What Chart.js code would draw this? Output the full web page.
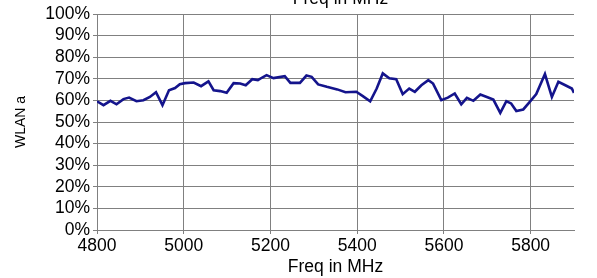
<!DOCTYPE html>
<html>
<head>
<meta charset="utf-8">
<script src="https://cdn.jsdelivr.net/npm/chart.js@4/dist/chart.umd.min.js"></script>
<style>
  html, body { margin: 0; padding: 0; background: #fff; }
  #wrap { width: 597px; height: 278px; }
</style>
</head>
<body>
<div id="wrap"><canvas id="wlanChart"></canvas></div>
<script>
// frequency points (MHz) and WLAN a level (%)
const freqs = [4800, 4815, 4831, 4845, 4861, 4874, 4891, 4907, 4922, 4936, 4951, 4966, 4980, 4991,
  5003, 5023, 5040, 5057, 5069, 5084, 5099, 5115, 5130, 5143, 5158, 5171, 5181, 5191, 5207, 5233,
  5246, 5268, 5283, 5295, 5310, 5330, 5354, 5373, 5398, 5413, 5430, 5445, 5459, 5474, 5490, 5505,
  5520, 5533, 5548, 5564, 5575, 5594, 5609, 5625, 5640, 5653, 5668, 5684, 5699, 5714, 5730, 5744,
  5755, 5767, 5783, 5798, 5813, 5833, 5849, 5864, 5880, 5895, 5900];
const wlanA = [59.6, 57.8, 59.8, 58.2, 60.6, 61.3, 59.6, 60.1, 61.6, 63.8, 57.8, 64.7, 65.7, 67.5,
  68, 68.3, 66.6, 68.8, 64.7, 64.3, 63.5, 68, 67.8, 67, 69.8, 69.4, 70.6, 71.7, 70.3, 71.2,
  68.1, 68.1, 71.5, 70.9, 67.4, 66.3, 65.1, 63.8, 64, 62, 59.6, 65.5, 72.5, 70.2, 69.8, 62.9,
  65.5, 64, 67, 69.4, 67.8, 60.1, 61.3, 63.2, 58.2, 61.2, 59.8, 62.7, 61.6, 60.4, 54.2, 59.6,
  58.6, 55.1, 55.8, 59.3, 62.9, 72.2, 61.6, 68.6, 67, 65.5, 63.5];
const xTicks = [4800, 5000, 5200, 5400, 5600, 5800];
const axisTitle = 'Freq in MHz';
const seriesLabel = 'WLAN a';

const family = '"Liberation Sans", Arial, sans-serif';
const font = { family: family, size: 17.5, lineHeight: 1 };
const gridColor = '#808080';

// title sitting above the plot, mostly clipped by the top edge
const topTitle = {
  id: 'topTitle',
  afterDraw(chart) {
    const { ctx, chartArea } = chart;
    ctx.save();
    ctx.font = '17.5px ' + family;
    ctx.fillStyle = '#000';
    ctx.textAlign = 'center';
    ctx.textBaseline = 'alphabetic';
    ctx.fillText(axisTitle, (chartArea.left + chartArea.right) / 2 + 5, 4);
    ctx.restore();
  }
};

new Chart(document.getElementById('wlanChart'), {
  type: 'scatter',
  data: {
    datasets: [{
      label: seriesLabel,
      data: freqs.map((f, i) => ({ x: f, y: wlanA[i] })),
      showLine: true,
      borderColor: '#14148c',
      borderWidth: 2.6,
      pointRadius: 0,
      tension: 0
    }]
  },
  options: {
    responsive: true,
    maintainAspectRatio: false,
    animation: false,
    layout: { padding: { top: 14, right: 23, left: 0, bottom: 0 } },
    plugins: { legend: { display: false }, tooltip: { enabled: false } },
    scales: {
      x: {
        type: 'linear',
        min: 4800,
        max: 5900,
        afterBuildTicks: axis => { axis.ticks = xTicks.map(v => ({ value: v })); },
        afterFit: axis => { axis.height = 48; },
        ticks: { color: '#000', font: font, maxRotation: 0, padding: 3, autoSkip: false, callback: v => String(v) },
        grid: { color: gridColor, lineWidth: 1, tickLength: 4, drawTicks: true },
        border: { color: gridColor },
        title: { display: true, text: axisTitle, color: '#000', font: { family: family, size: 17.5 }, padding: { top: 0, bottom: 0 } }
      },
      y: {
        min: 0,
        max: 100,
        afterFit: axis => { axis.width = 97; },
        ticks: { stepSize: 10, color: '#000', font: font, padding: 3, autoSkip: false, callback: v => v + '%' },
        grid: { color: gridColor, lineWidth: 1, tickLength: 4 },
        border: { color: gridColor },
        title: { display: true, text: seriesLabel, color: '#000', font: { family: family, size: 14 }, padding: { top: 13, bottom: 0 } }
      }
    }
  },
  plugins: [topTitle]
});
</script>
</body>
</html>
